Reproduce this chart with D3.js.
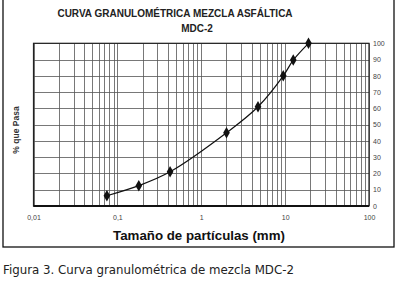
<!DOCTYPE html>
<html>
<head>
<meta charset="utf-8">
<script src="https://cdn.jsdelivr.net/npm/d3@7"></script>
<style>
  body { margin: 0; background: #fff; }
  svg { display: block; }
</style>
</head>
<body>
<div id="chart"></div>
<script>
// sieve sizes (mm) and percent passing
const sizes = [0.075, 0.18, 0.425, 2, 4.75, 9.5, 12.5, 19];
const passing = [6.3, 12.5, 21, 45, 61, 80, 89.7, 100];
const xTickValues = [0.01, 0.1, 1, 10, 100];
const xTickLabels = ["0,01", "0,1", "1", "10", "100"];
const yTickValues = [0, 10, 20, 30, 40, 50, 60, 70, 80, 90, 100];

const W = 398, H = 281;
const plot = { left: 33.5, right: 369, top: 43.3, bottom: 206 };

const svg = d3.select("#chart").append("svg")
  .attr("width", W).attr("height", H);

// outer frame
svg.append("rect")
  .attr("x", 3).attr("y", -2)
  .attr("width", 391).attr("height", 249)
  .attr("fill", "none").attr("stroke", "#111").attr("stroke-width", 1.3);

const x = d3.scaleLog().domain([0.01, 100]).range([plot.left, plot.right]);
const y = d3.scaleLinear().domain([0, 100]).range([plot.bottom, plot.top]);

// vertical grid, every minor log step
const minor = [];
for (let e = -2; e < 2; e++) {
  for (let m = 1; m <= 9; m++) minor.push(m * Math.pow(10, e));
}
minor.push(100);
svg.append("g")
  .selectAll("line")
  .data(minor)
  .join("line")
  .attr("x1", d => Math.round(x(d)) + 0.5).attr("x2", d => Math.round(x(d)) + 0.5)
  .attr("y1", plot.top).attr("y2", plot.bottom)
  .attr("stroke", "#555").attr("stroke-width", 0.8);

// horizontal grid
svg.append("g")
  .selectAll("line")
  .data(yTickValues)
  .join("line")
  .attr("x1", plot.left).attr("x2", plot.right)
  .attr("y1", d => Math.round(y(d)) + 0.5).attr("y2", d => Math.round(y(d)) + 0.5)
  .attr("stroke", "#555").attr("stroke-width", 0.8);

// plot border
svg.append("rect")
  .attr("x", plot.left).attr("y", plot.top)
  .attr("width", plot.right - plot.left).attr("height", plot.bottom - plot.top)
  .attr("fill", "none").attr("stroke", "#222").attr("stroke-width", 1.2);
svg.append("line")
  .attr("x1", plot.left).attr("x2", plot.right)
  .attr("y1", plot.bottom).attr("y2", plot.bottom)
  .attr("stroke", "#111").attr("stroke-width", 2);

// right y labels
const yAxis = d3.axisRight(y).tickValues(yTickValues).tickSize(0).tickPadding(4);
svg.append("g")
  .attr("transform", `translate(${plot.right},0)`)
  .call(yAxis)
  .call(g => g.select(".domain").remove())
  .call(g => g.selectAll("text")
    .attr("font-family", "Liberation Sans, Arial, sans-serif")
    .attr("font-size", 7).attr("fill", "#444"));

// bottom x labels
const xAxis = d3.axisBottom(x).tickValues(xTickValues)
  .tickFormat((d, i) => xTickLabels[i]).tickSize(0).tickPadding(9);
svg.append("g")
  .attr("transform", `translate(0,${plot.bottom})`)
  .call(xAxis)
  .call(g => g.select(".domain").remove())
  .call(g => g.selectAll("text")
    .attr("font-family", "Liberation Sans, Arial, sans-serif")
    .attr("font-size", 7).attr("fill", "#444"));

// curve
const pts = sizes.map((s, i) => [x(s), y(passing[i])]);
svg.append("path")
  .attr("d", d3.line().curve(d3.curveCatmullRom.alpha(0.5))(pts))
  .attr("fill", "none").attr("stroke", "#111").attr("stroke-width", 1.2);

svg.append("g")
  .selectAll("path")
  .data(pts)
  .join("path")
  .attr("transform", d => `translate(${d[0]},${d[1]})`)
  .attr("d", d3.symbol(d3.symbolDiamond, 38)())
  .attr("fill", "#111");

// titles
svg.append("text")
  .attr("x", 175).attr("y", 17)
  .attr("text-anchor", "middle")
  .attr("font-family", "Liberation Sans, Arial, sans-serif")
  .attr("font-weight", "bold").attr("font-size", 10).attr("fill", "#222")
  .text("CURVA GRANULOMÉTRICA MEZCLA ASFÁLTICA");
svg.append("text")
  .attr("x", 197).attr("y", 32)
  .attr("text-anchor", "middle")
  .attr("font-family", "Liberation Sans, Arial, sans-serif")
  .attr("font-weight", "bold").attr("font-size", 10).attr("fill", "#222")
  .text("MDC-2");

svg.append("text")
  .attr("transform", "translate(19,130) rotate(-90)")
  .attr("text-anchor", "middle")
  .attr("font-family", "Liberation Sans, Arial, sans-serif")
  .attr("font-weight", "bold").attr("font-size", 8.5).attr("fill", "#333")
  .text("% que Pasa");

svg.append("text")
  .attr("x", 199).attr("y", 240)
  .attr("text-anchor", "middle")
  .attr("font-family", "Liberation Sans, Arial, sans-serif")
  .attr("font-weight", "bold").attr("font-size", 13.3).attr("fill", "#111")
  .text("Tamaño de partículas (mm)");

svg.append("text")
  .attr("x", 3).attr("y", 274)
  .attr("font-family", "DejaVu Sans, sans-serif")
  .attr("font-size", 11.8).attr("fill", "#222")
  .text("Figura 3. Curva granulométrica de mezcla MDC-2");
</script>
</body>
</html>
